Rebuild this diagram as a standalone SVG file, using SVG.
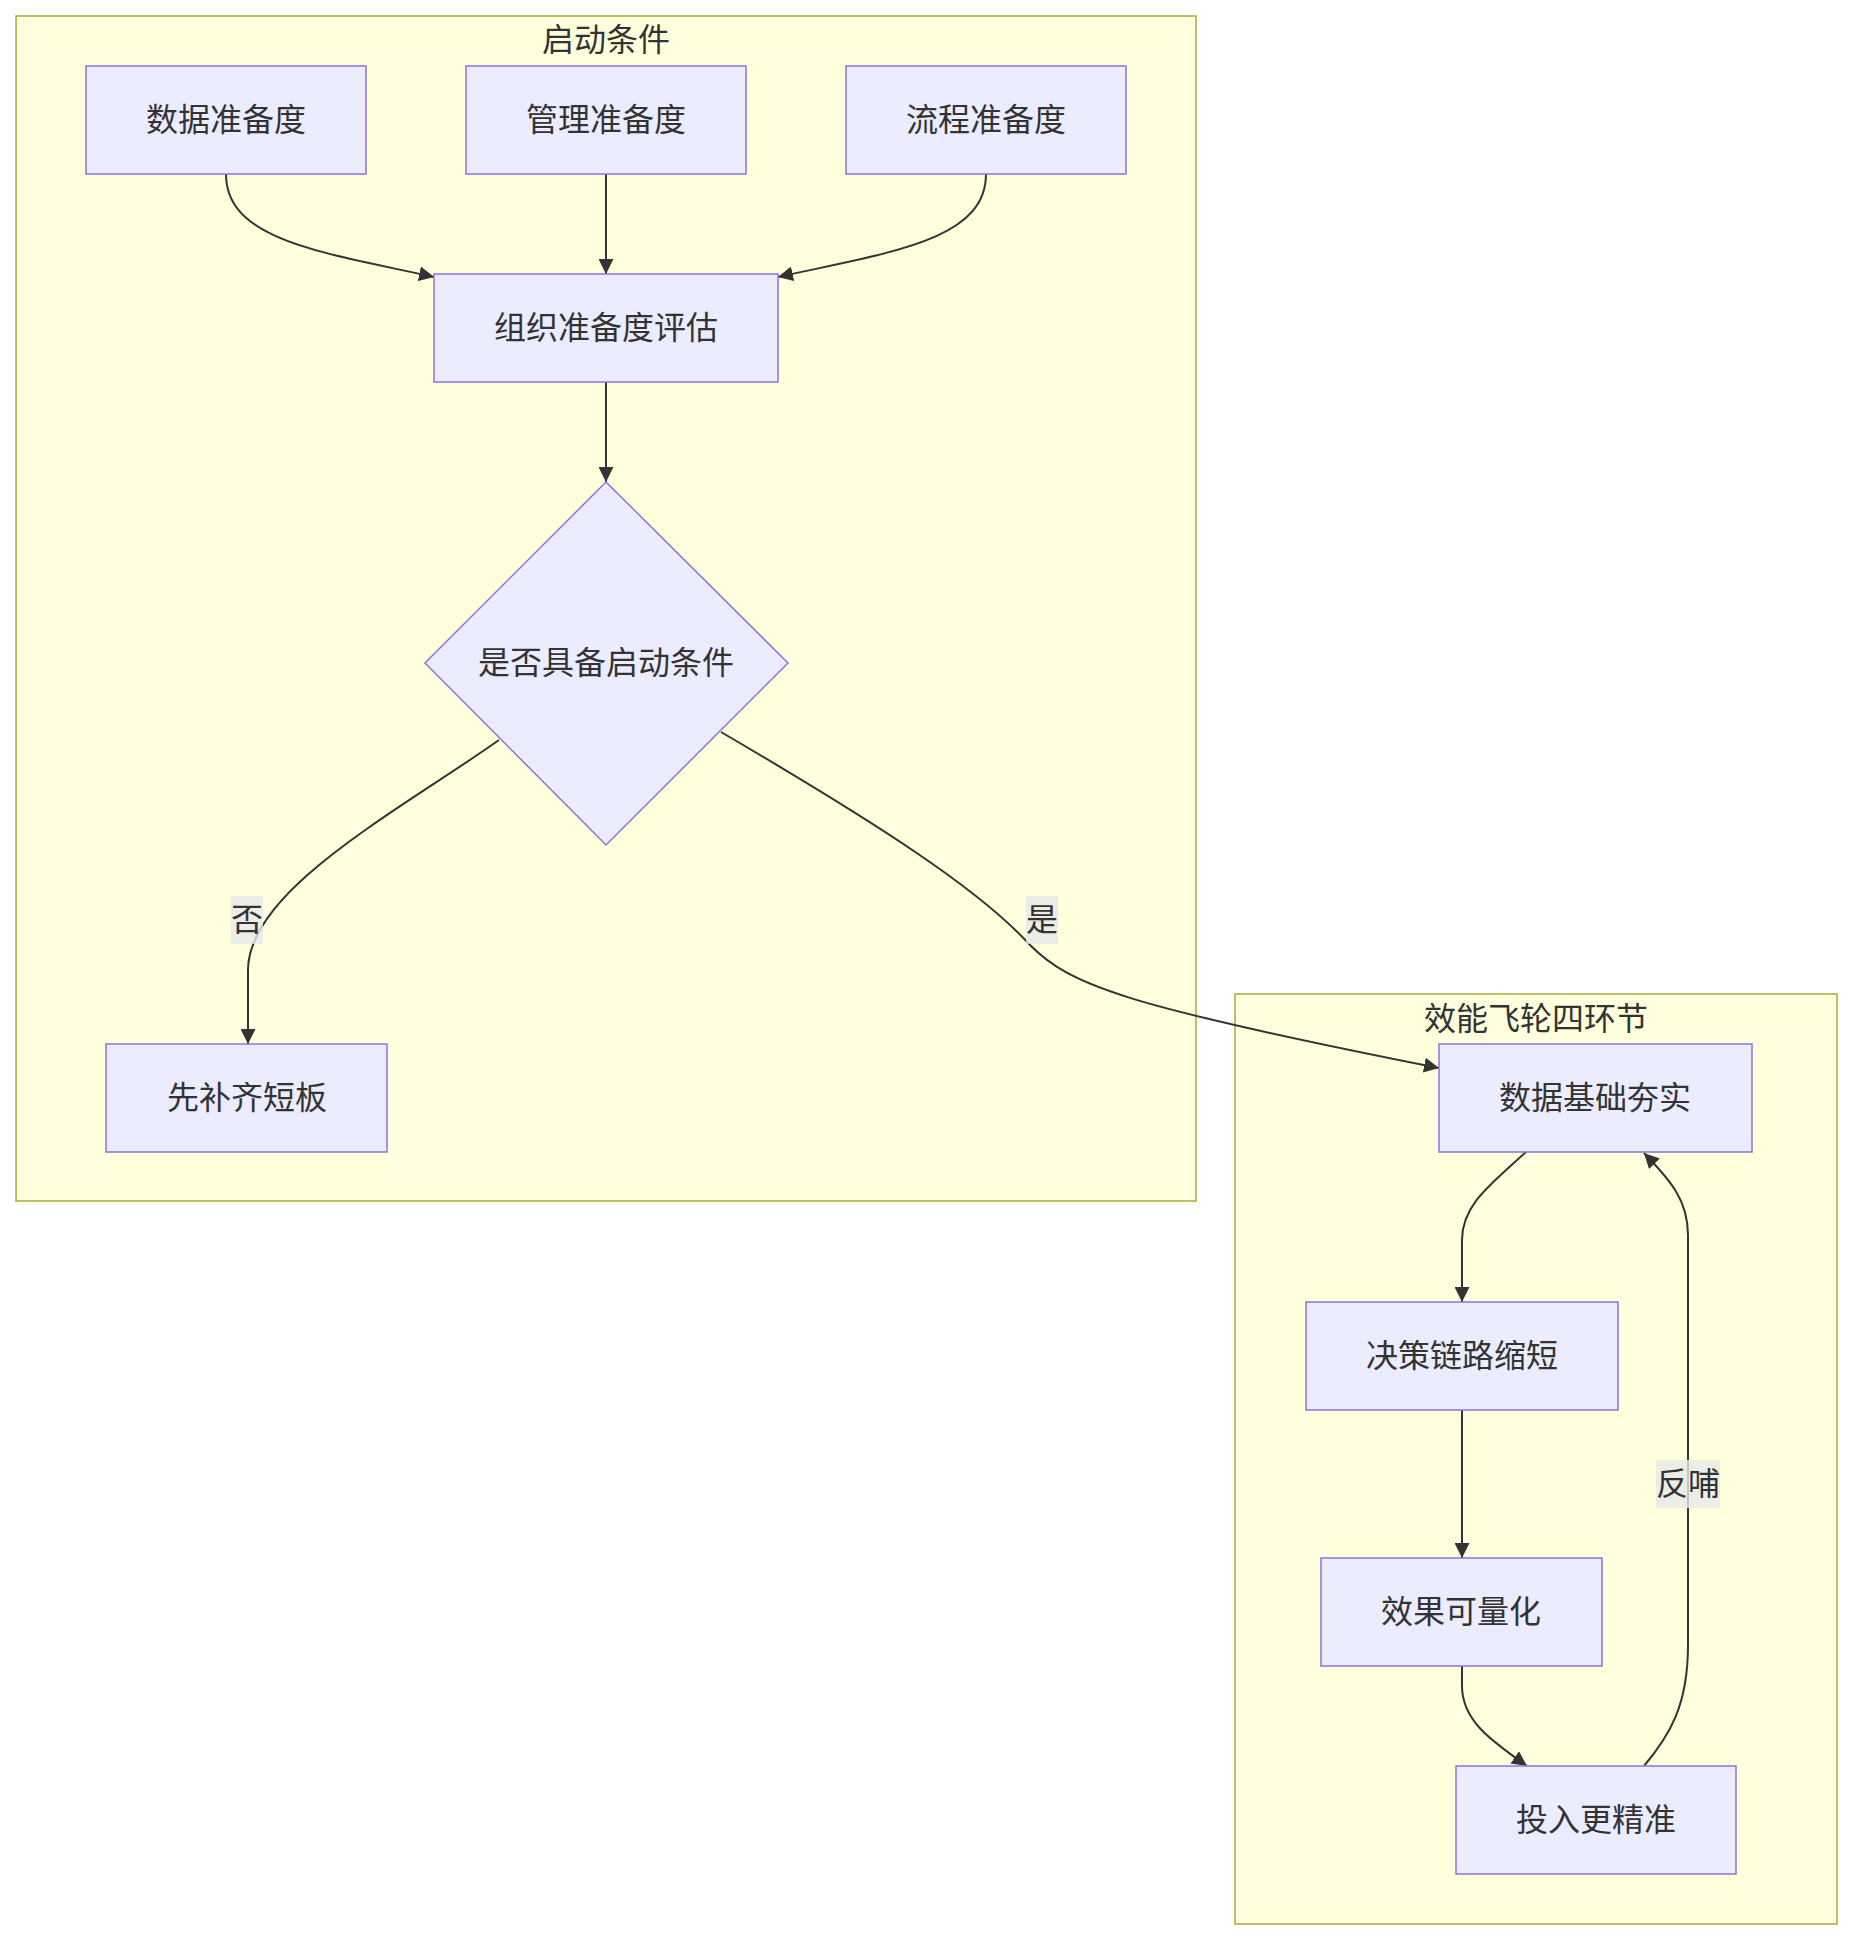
<svg xmlns="http://www.w3.org/2000/svg" width="1853" height="1940" viewBox="0 0 1853 1940">
<style>
.cluster rect{fill:#ffffde;stroke:#aaaa33;stroke-width:1.5}
.node rect,.node polygon{fill:#ECECFF;stroke:#9370DB;stroke-width:1.5}
text{font-family:"Noto Sans CJK SC","Noto Sans",sans-serif;font-size:32px;fill:#333333;text-anchor:middle;dominant-baseline:central}
.edge{fill:none;stroke:#333333;stroke-width:2}
.lbl rect{fill:#e8e8e8;fill-opacity:0.8}
</style>
<defs>
<marker id="arrow" viewBox="0 0 10 10" refX="10" refY="5" markerWidth="15" markerHeight="15" markerUnits="userSpaceOnUse" orient="auto">
<path d="M0,0 L10,5 L0,10 z" fill="#333333"/>
</marker>
</defs>
<rect width="1853" height="1940" fill="#ffffff"/>
<g id="cluster-start" class="cluster">
<rect x="16" y="16" width="1180" height="1185"/>
<text x="606" y="37">启动条件</text>
</g>
<g id="cluster-flywheel" class="cluster">
<rect x="1235" y="994" width="602" height="930"/>
<text x="1536" y="1016">效能飞轮四环节</text>
</g>
<g id="edges">
<path class="edge" d="M226,174 C226,240 320,252 434,277" marker-end="url(#arrow)"/>
<path class="edge" d="M606,174 L606,274" marker-end="url(#arrow)"/>
<path class="edge" d="M986,174 C986,240 892,252 778,277" marker-end="url(#arrow)"/>
<path class="edge" d="M606,382 L606,482" marker-end="url(#arrow)"/>
<path class="edge" d="M499,740 C400,810 248,890 248,970 L248,1044" marker-end="url(#arrow)"/>
<path class="edge" d="M721,732 C880,825 980,890 1030,945 C1070,985 1120,1005 1439,1068" marker-end="url(#arrow)"/>
<path class="edge" d="M1526,1152 C1490,1185 1462,1205 1462,1240 L1462,1302" marker-end="url(#arrow)"/>
<path class="edge" d="M1462,1410 L1462,1558" marker-end="url(#arrow)"/>
<path class="edge" d="M1462,1666 L1462,1686 C1462,1720 1490,1740 1527,1766" marker-end="url(#arrow)"/>
<path class="edge" d="M1644,1766 C1670,1735 1688,1705 1688,1645 L1688,1235 C1688,1200 1670,1180 1644,1153" marker-end="url(#arrow)"/>
</g>
<g id="edge-labels">
<g class="lbl"><rect x="231" y="896" width="32" height="48"/><text x="247" y="917">否</text></g>
<g class="lbl"><rect x="1026" y="896" width="32" height="48"/><text x="1042" y="917">是</text></g>
<g class="lbl"><rect x="1656" y="1460" width="64" height="48"/><text x="1688" y="1481">反哺</text></g>
</g>
<g id="n-data" class="node"><rect x="86" y="66" width="280" height="108"/><text x="226" y="117">数据准备度</text></g>
<g id="n-mgmt" class="node"><rect x="466" y="66" width="280" height="108"/><text x="606" y="117">管理准备度</text></g>
<g id="n-proc" class="node"><rect x="846" y="66" width="280" height="108"/><text x="986" y="117">流程准备度</text></g>
<g id="n-org" class="node"><rect x="434" y="274" width="344" height="108"/><text x="606" y="325">组织准备度评估</text></g>
<g id="n-decide" class="node"><polygon points="606,482 788,663 606,845 425,663"/><text x="606" y="660">是否具备启动条件</text></g>
<g id="n-fix" class="node"><rect x="106" y="1044" width="281" height="108"/><text x="247" y="1095">先补齐短板</text></g>
<g id="n-base" class="node"><rect x="1439" y="1044" width="313" height="108"/><text x="1595" y="1095">数据基础夯实</text></g>
<g id="n-chain" class="node"><rect x="1306" y="1302" width="312" height="108"/><text x="1462" y="1353">决策链路缩短</text></g>
<g id="n-effect" class="node"><rect x="1321" y="1558" width="281" height="108"/><text x="1461" y="1609">效果可量化</text></g>
<g id="n-invest" class="node"><rect x="1456" y="1766" width="280" height="108"/><text x="1596" y="1817">投入更精准</text></g>
</svg>
